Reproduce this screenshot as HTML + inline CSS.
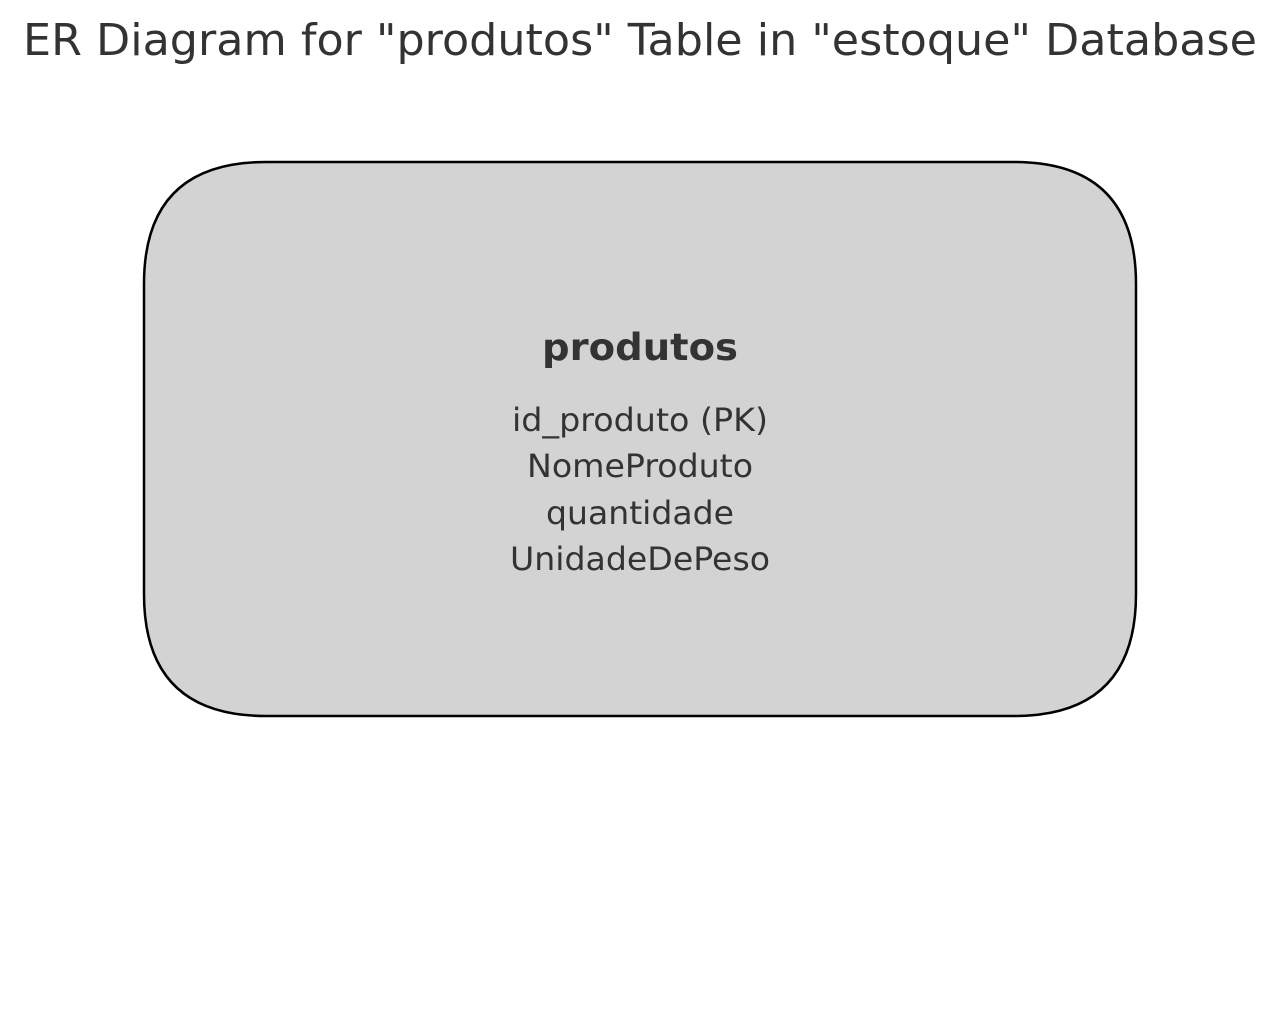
<!DOCTYPE html>
<html><head><meta charset="utf-8"><style>
html,body{margin:0;padding:0;background:#fff;width:1280px;height:1014px;overflow:hidden}
</style></head><body>
<svg width="1280" height="1014" viewBox="0 0 1280 1014" xmlns="http://www.w3.org/2000/svg" font-family="'DejaVu Sans','Liberation Sans',sans-serif" fill="#333">
<text x="640" y="55" font-size="44" text-anchor="middle" textLength="1234" lengthAdjust="spacingAndGlyphs">ER Diagram for "produtos" Table in "estoque" Database</text>
<path d="M266,162 H1014 Q1136,162 1136,284 V594 Q1136,716 1014,716 H266 Q144,716 144,594 V284 Q144,162 266,162 Z" fill="#d3d3d3" stroke="#000" stroke-width="2.5"/>
<text x="640" y="360" font-size="37" font-weight="bold" text-anchor="middle" textLength="196" lengthAdjust="spacingAndGlyphs">produtos</text>
<text x="640" y="431" font-size="32" text-anchor="middle" textLength="256" lengthAdjust="spacingAndGlyphs">id_produto (PK)</text>
<text x="640" y="477" font-size="32" text-anchor="middle" textLength="226" lengthAdjust="spacingAndGlyphs">NomeProduto</text>
<text x="640" y="524" font-size="32" text-anchor="middle" textLength="188" lengthAdjust="spacingAndGlyphs">quantidade</text>
<text x="640" y="570" font-size="32" text-anchor="middle" textLength="260" lengthAdjust="spacingAndGlyphs">UnidadeDePeso</text>
</svg>
</body></html>
